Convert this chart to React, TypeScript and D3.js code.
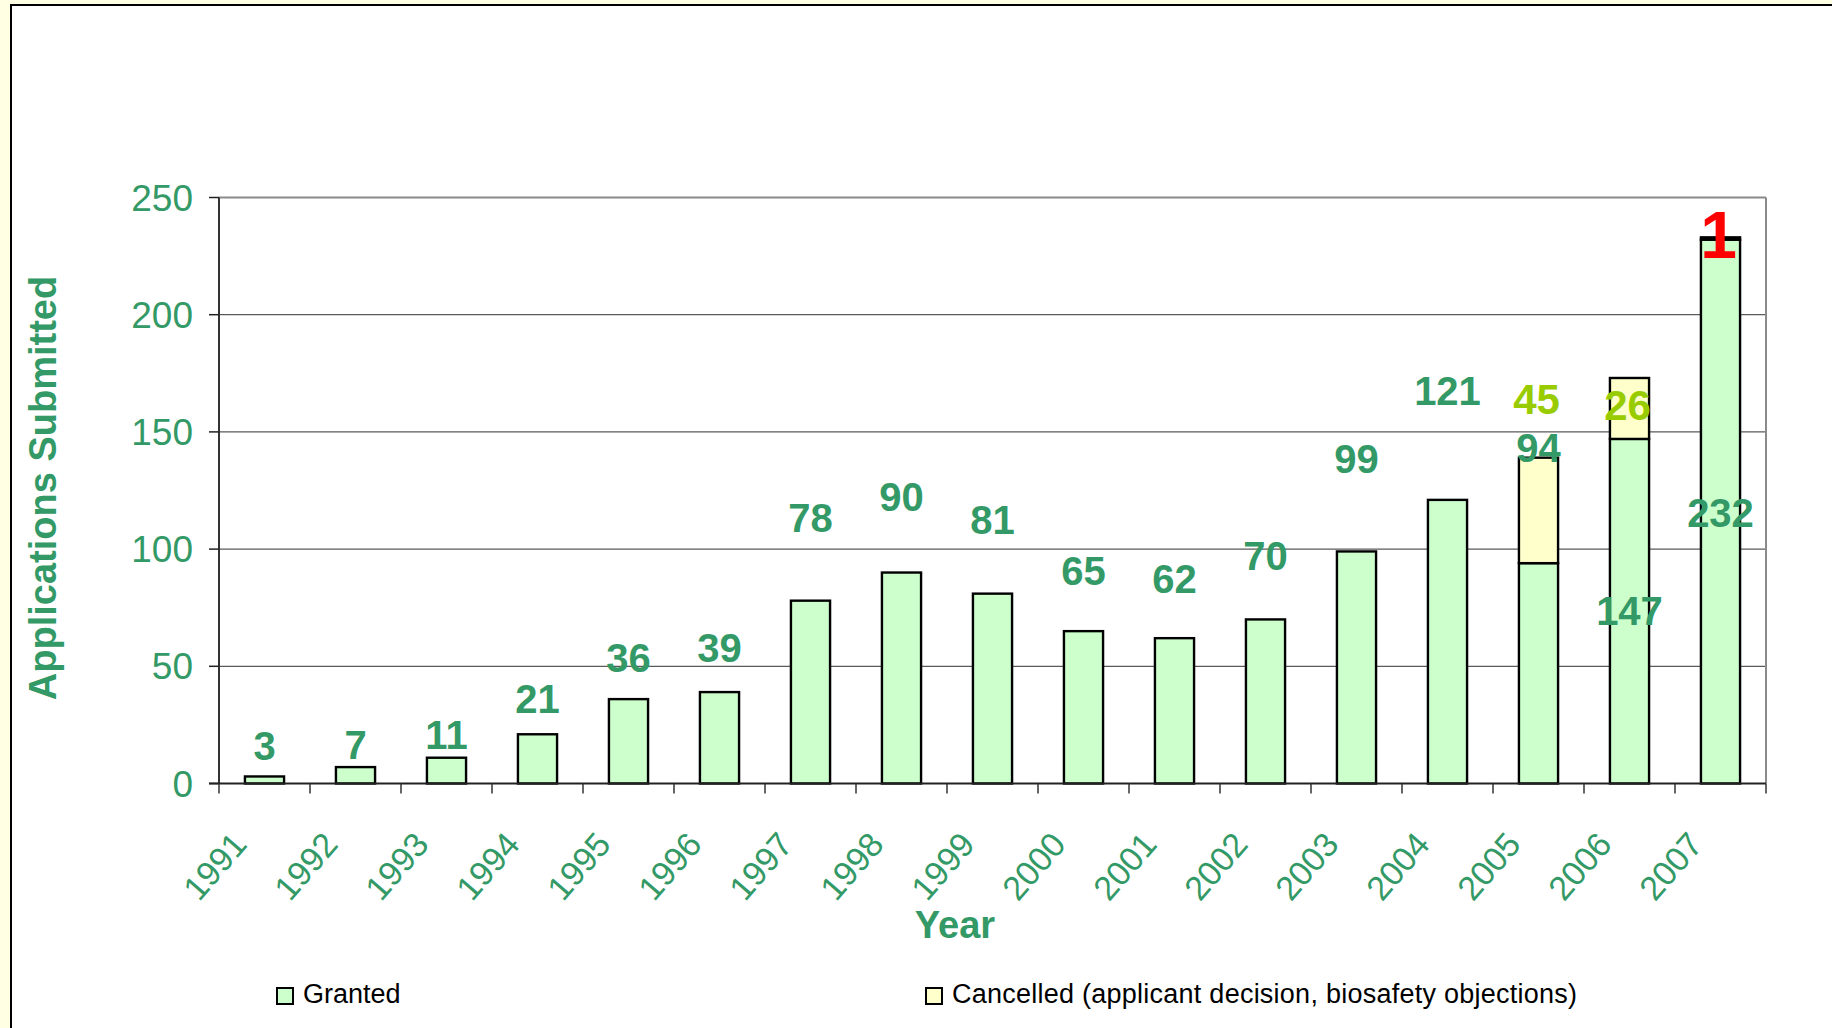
import { scaleBand, scaleLinear, stack } from "d3";

const years = ["1991", "1992", "1993", "1994", "1995", "1996", "1997", "1998", "1999", "2000", "2001", "2002", "2003", "2004", "2005", "2006", "2007"];
const granted = [3, 7, 11, 21, 36, 39, 78, 90, 81, 65, 62, 70, 99, 121, 94, 147, 232];
const cancelled = [0, 0, 0, 0, 0, 0, 0, 0, 0, 0, 0, 0, 0, 0, 45, 26, 1];
// where each data label sits, in axis units (labels were placed by hand in the source slide)
const grantedLabelAt = [10, 10.5, 14.7, 30.1, 47.6, 51.8, 107.3, 116.3, 106.4, 84.7, 81.3, 91.1, 132.5, 161.5, 137.2, 67.6, 109.4];
const cancelledLabelAt = [0, 0, 0, 0, 0, 0, 0, 0, 0, 0, 0, 0, 0, 0, 157.6, 155.1, 224.2];
const yTicks = [0, 50, 100, 150, 200, 250];

const GREEN = "#339966";
const FONT = "'Liberation Sans', Arial, sans-serif";

export default function App() {
  const width = 1832;
  const height = 1028;
  const left = 219;
  const right = 1766;
  const top = 197.5;
  const bottom = 783.5;

  const x = scaleBand<string>().domain(years).range([left, right]).paddingInner(0.57).paddingOuter(0.285);
  const y = scaleLinear().domain([0, 250]).range([bottom, top]);

  const rows = years.map((year, i) => ({ year, granted: granted[i], cancelled: cancelled[i] }));
  const series = stack<(typeof rows)[number]>().keys(["granted", "cancelled"])(rows);
  const fills: Record<string, string> = { granted: "#CCFFCC", cancelled: "#FFFFCC" };

  const step = x.step();
  const center = (year: string) => (x(year) ?? 0) + x.bandwidth() / 2;
  const edges = years.map((_, i) => left + i * step).concat([right]);

  return (
    <div style={{ position: "absolute", left: 0, top: 0, width, height, overflow: "hidden" }}>
      <svg width={width} height={height} style={{ display: "block", fontFamily: FONT }}>
        <rect x={0} y={0} width={width} height={height} fill="#FFFFE4" />
        <rect x={11} y={5} width={width + 20} height={height + 20} fill="#ffffff" stroke="#000" strokeWidth={2} />

        {/* gridlines */}
        {yTicks.slice(1, -1).map((t) => (
          <line key={t} x1={left} x2={right} y1={y(t)} y2={y(t)} stroke="#5a5a5a" strokeWidth={1.2} />
        ))}
        <line x1={left} x2={right} y1={top} y2={top} stroke="#8a8a8a" strokeWidth={2} />
        <line x1={right} x2={right} y1={top} y2={bottom} stroke="#8a8a8a" strokeWidth={2} />

        {/* bars */}
        {series.map((s) => (
          <g key={s.key}>
            {s.map((d) =>
              d[1] - d[0] > 0 ? (
                <rect
                  key={d.data.year}
                  x={x(d.data.year)}
                  y={y(d[1])}
                  width={x.bandwidth()}
                  height={y(d[0]) - y(d[1])}
                  fill={fills[s.key]}
                  stroke="#000"
                  strokeWidth={2.4}
                />
              ) : null
            )}
          </g>
        ))}

        {/* axes */}
        <line x1={left} x2={left} y1={top} y2={bottom} stroke="#333" strokeWidth={2} />
        <line x1={left - 10} x2={right} y1={bottom} y2={bottom} stroke="#222" strokeWidth={2} />
        {yTicks.map((t) => (
          <g key={t}>
            <line x1={left - 10} x2={left} y1={y(t)} y2={y(t)} stroke="#222" strokeWidth={1.5} />
            <text x={left - 26} y={y(t) + 13} textAnchor="end" fontSize={37} fill={GREEN}>
              {t}
            </text>
          </g>
        ))}
        {edges.map((ex, i) => (
          <line key={i} x1={ex} x2={ex} y1={bottom} y2={bottom + 10} stroke="#333" strokeWidth={1.5} />
        ))}
        {years.map((yr) => (
          <text
            key={yr}
            transform={`translate(${center(yr) - 16},${bottom + 62}) rotate(-49)`}
            textAnchor="end"
            fontSize={34}
            fill={GREEN}
          >
            {yr}
          </text>
        ))}

        {/* data labels */}
        {years.map((yr, i) => (
          <text key={yr} x={center(yr)} y={y(grantedLabelAt[i])} textAnchor="middle" fontSize={40} fontWeight="bold" fill={GREEN}>
            {granted[i]}
          </text>
        ))}
        {years.map((yr, i) =>
          cancelled[i] > 0 ? (
            <text
              key={yr}
              x={center(yr) - 2}
              y={y(cancelledLabelAt[i])}
              textAnchor="middle"
              fontSize={cancelled[i] === 1 ? 66 : 42}
              fontWeight="bold"
              fill={cancelled[i] === 1 ? "#FF0000" : "#99CC00"}
            >
              {cancelled[i]}
            </text>
          ) : null
        )}

        {/* titles */}
        <text transform="translate(56,488) rotate(-90)" textAnchor="middle" fontSize={38} fontWeight="bold" fill={GREEN}>
          Applications Submitted
        </text>
        <text x={955} y={938} textAnchor="middle" fontSize={38} fontWeight="bold" fill={GREEN}>
          Year
        </text>

        {/* legend */}
        <rect x={277} y={988} width={16} height={16} fill="#CCFFCC" stroke="#000" strokeWidth={2} />
        <text x={303} y={1003} fontSize={27} fill="#000">
          Granted
        </text>
        <rect x={926} y={988} width={16} height={16} fill="#FFFFCC" stroke="#000" strokeWidth={2} />
        <text x={952} y={1003} fontSize={27} fill="#000" textLength={625} lengthAdjust="spacing">
          Cancelled (applicant decision, biosafety objections)
        </text>
      </svg>
    </div>
  );
}
